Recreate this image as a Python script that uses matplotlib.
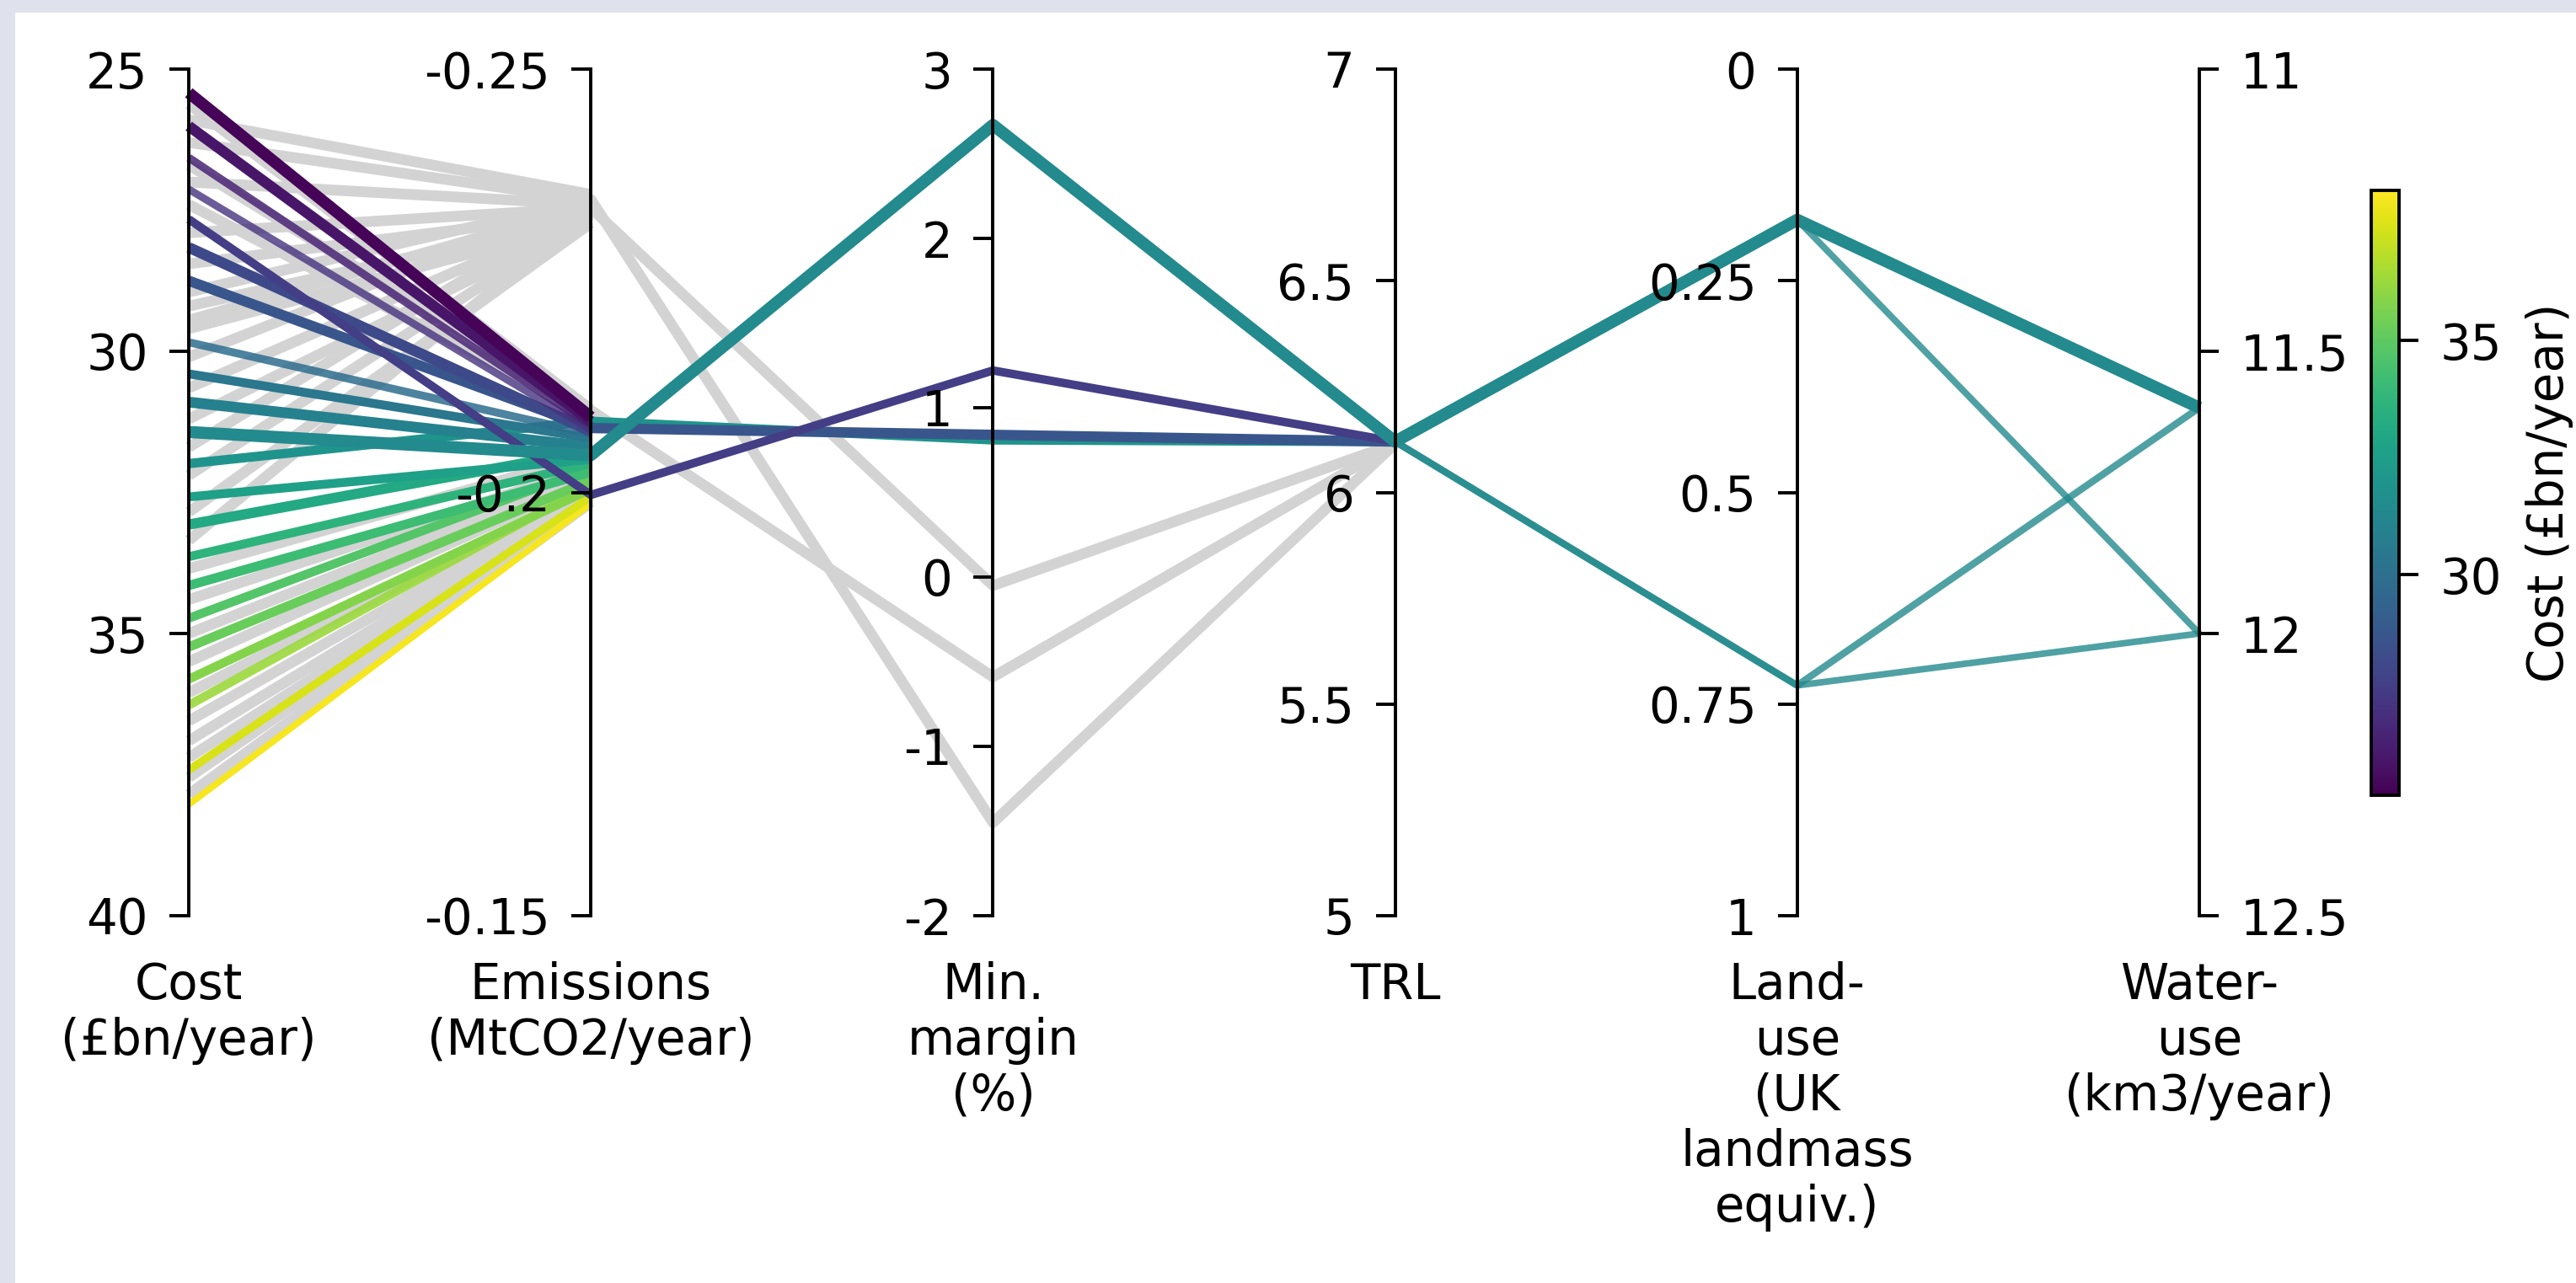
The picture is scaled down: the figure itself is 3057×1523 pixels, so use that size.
import numpy as np
import matplotlib.pyplot as plt
from matplotlib import colors, cm
from matplotlib.patches import Rectangle

plt.rcParams["font.family"] = "DejaVu Sans"
plt.rcParams["font.size"] = 10.4

nan = np.nan

# ---------- axes ----------
axis_names = ["Cost\n(£bn/year)", "Emissions\n(MtCO2/year)", "Min.\nmargin\n(%)",
              "TRL", "Land-\nuse\n(UK\nlandmass\nequiv.)", "Water-\nuse\n(km3/year)"]
# (value at bottom, value at top)
axis_lims = [(40, 25), (-0.15, -0.25), (-2, 3), (5, 7), (1, 0), (12.5, 11)]
axis_ticks = [[25, 30, 35, 40], [-0.25, -0.2, -0.15], [-2, -1, 0, 1, 2, 3],
              [5, 5.5, 6, 6.5, 7], [0, 0.25, 0.5, 0.75, 1], [11, 11.5, 12, 12.5]]

# ---------- filtered-out solutions (grey) ----------
gray_cost = [25.62, 25.90, 26.30, 26.70, 27.00, 27.40, 27.90, 28.45, 28.95, 29.20,
             29.45, 29.60, 30.10, 30.65, 31.20, 31.70, 32.20, 32.85, 33.35, 33.85,
             34.40, 35.00, 35.50, 36.05, 36.55, 36.90, 37.20, 37.55, 37.85]
gray_emis = [-0.2098, -0.2352, -0.2345, -0.2097, -0.2340, -0.2093, -0.2336, -0.2330,
             -0.2346, -0.2325, -0.2339, -0.2320, -0.2348, -0.2331, -0.2322, -0.2343,
             -0.2328, -0.2318, -0.2335, -0.2044, -0.2030, -0.2022, -0.2015, -0.2005,
             -0.2000, -0.1995, -0.1992, -0.1990, -0.1988]
gray_margin = [nan, nan, nan, -0.59, nan, nan, -0.05, nan, -1.45] + [nan] * 20
gray_trl = [nan, nan, nan, 6.115, nan, nan, 6.115, nan, 6.115] + [nan] * 20

# ---------- retained solutions (coloured by cost) ----------
col_cost = [25.42, 26.01, 26.57, 27.13, 27.66, 28.16, 28.75, 29.84, 30.40, 30.90,
            31.43, 31.99, 32.58, 33.07, 33.64, 34.15, 34.73, 35.24, 35.81, 36.27,
            37.42, 38.03, 31.43, 31.43, 31.43]
col_emis = [-0.2089, -0.2084, -0.2079, -0.2074, -0.1997, -0.2072, -0.2076, -0.2069,
            -0.2064, -0.2054, -0.2044, -0.2084, -0.2039, -0.2049, -0.2034, -0.2024,
            -0.2029, -0.2014, -0.2004, -0.2009, -0.1995, -0.1987, -0.2044, -0.2044,
            -0.2044]
col_margin = [nan, nan, nan, nan, 1.22, nan, 0.84, nan, nan, nan, 2.67, 0.81,
              nan, nan, nan, nan, nan, nan, nan, nan, nan, nan, 2.67, 2.67, 2.67]
col_trl = [nan, nan, nan, nan, 6.12, nan, 6.12, nan, nan, nan, 6.12, 6.12,
           nan, nan, nan, nan, nan, nan, nan, nan, nan, nan, 6.12, 6.12, 6.12]
col_land = [nan, nan, nan, nan, 0.178, nan, 0.178, nan, nan, nan, 0.178, 0.178,
            nan, nan, nan, nan, nan, nan, nan, nan, nan, nan, 0.728, 0.728, 0.178]
col_water = [nan, nan, nan, nan, 11.6, nan, 11.6, nan, nan, nan, 11.6, 11.6,
             nan, nan, nan, nan, nan, nan, nan, nan, nan, nan, 11.6, 12.0, 12.0]
col_width = [2.5, 2.3, 1.7, 1.6, 1.8, 2.3, 2.2, 1.7, 1.9, 2.3,
             2.6, 2.0, 1.9, 2.2, 1.9, 2.0, 1.9, 2.0, 1.9, 1.9,
             1.7, 1.4, 1.5, 1.4, 1.4]
col_alpha = [1, 1, 0.85, 0.8, 1, 1, 1, 0.85, 1, 1,
             1, 1, 1, 1, 1, 1, 1, 1, 1, 0.9,
             1, 1, 0.8, 0.8, 0.8]


def to_unit(values):
    """Scale each column onto 0..1 of its own vertical axis."""
    out = []
    for v, (lo, hi) in zip(values, axis_lims):
        out.append((v - lo) / (hi - lo))
    return np.array(out, dtype=float)


W, H, DPI = 3057, 1523, 400
fig = plt.figure(figsize=(W / DPI, H / DPI), dpi=DPI)
fig.patch.set_facecolor("#dfe2ec")
fig.add_artist(Rectangle((18 / W, 0), 1, 1 - 15 / H, transform=fig.transFigure,
                         facecolor="white", edgecolor="none", zorder=-10))

left, right = 224 / W, 2610 / W
top, bottom = 1 - 82 / H, 1 - 1087 / H
rect = [left, bottom, right - left, top - bottom]
n = len(axis_names)

# polylines go underneath the vertical axes
lax = fig.add_axes(rect)
lax.patch.set_visible(False)
lax.set_xlim(0, n - 1)
lax.set_ylim(0, 1)
for s in lax.spines.values():
    s.set_visible(False)
lax.set_yticks([])
lax.set_xticks(range(n))
lax.set_xticklabels(axis_names)
lax.tick_params(axis="x", length=0, pad=9.7)

xs = np.arange(n)
for k in range(len(gray_cost)):
    row = [gray_cost[k], gray_emis[k], gray_margin[k], gray_trl[k], nan, nan]
    lax.plot(xs, to_unit(row), color="#d3d3d3", lw=2.3, zorder=1,
             solid_capstyle="butt", clip_on=False)

cnorm = colors.Normalize(vmin=25.3, vmax=38.2)
cmap = plt.get_cmap("viridis")
order = sorted(range(len(col_cost)), key=lambda k: -col_cost[k])
order.remove(10)
order.append(10)
for z, k in enumerate(order):
    row = [col_cost[k], col_emis[k], col_margin[k], col_trl[k], col_land[k], col_water[k]]
    lax.plot(xs, to_unit(row), color=cmap(cnorm(col_cost[k])), lw=col_width[k],
             alpha=col_alpha[k], zorder=2 + z * 0.01, solid_capstyle="butt",
             clip_on=False)

# one vertical axis per variable
for i, ((lo, hi), tks) in enumerate(zip(axis_lims, axis_ticks)):
    ax = fig.add_axes(rect)
    ax.patch.set_visible(False)
    ax.set_ylim(lo, hi)
    ax.set_xticks([])
    for s in ax.spines.values():
        s.set_visible(False)
    side = "right" if i == n - 1 else "left"
    sp = ax.spines[side]
    sp.set_visible(True)
    sp.set_position(("axes", i / (n - 1)))
    sp.set_linewidth(0.7)
    ax.yaxis.set_ticks_position(side)
    ax.set_yticks(tks)
    ax.set_yticklabels([f"{t:g}" for t in tks])
    ax.tick_params(axis="y", length=4.2, width=0.7, pad=4.5)

# colour bar
cax = fig.add_axes([2814 / W, 1 - 944 / H, 33 / W, 718 / H])
cb = fig.colorbar(cm.ScalarMappable(norm=cnorm, cmap=cmap), cax=cax, ticks=[30, 35])
cb.outline.set_linewidth(0.7)
cb.ax.tick_params(length=4.2, width=0.7, pad=4.5)
cb.set_label("Cost (£bn/year)", labelpad=5)

fig.savefig("out.png", dpi=DPI)
